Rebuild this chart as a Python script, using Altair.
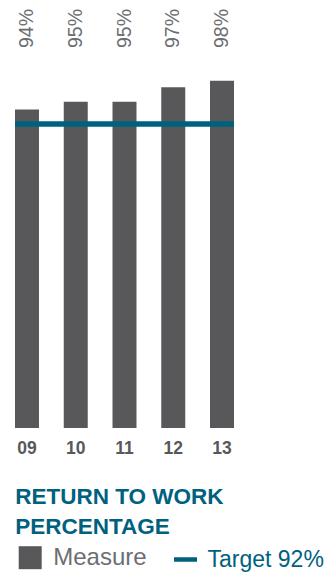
import altair as alt
import pandas as pd

years = ["09", "10", "11", "12", "13"]
measure = [94.0, 95.1, 95.1, 97.1, 98.0]
labels = ["94%", "95%", "95%", "97%", "98%"]
target_value = 92
target_label = "Target 92%"
measure_label = "Measure"
title_lines = ["RETURN TO WORK", "PERCENTAGE"]

FONT = "Liberation Sans"
BAR = "#58585a"
BLUE = "#00617f"
GRAY = "#6d6e71"

bars_df = pd.DataFrame({"year": years, "value": measure, "label": labels,
                        "series": [measure_label] * len(years)})
target_df = pd.DataFrame({"series": [target_label], "value": [target_value]})

yscale = alt.Scale(domain=[49.8, 108.1], zero=False, nice=False, clamp=True)

x_enc = alt.X(
    "year:N", sort=years,
    scale=alt.Scale(paddingInner=0.508, paddingOuter=0),
    axis=alt.Axis(title=None, ticks=False, domain=False, labelAngle=0,
                  labelFont=FONT, labelFontSize=17.5, labelFontWeight="bold",
                  labelColor=BAR, labelPadding=11.5),
)

bars = alt.Chart(bars_df).mark_bar().encode(
    x=x_enc,
    y=alt.Y("value:Q", scale=yscale, axis=None),
    fill=alt.Fill(
        "series:N",
        scale=alt.Scale(domain=[measure_label], range=[BAR]),
        legend=alt.Legend(
            title=title_lines, orient="none", legendX=0.2, legendY=478.2,
            padding=0, titleFont=FONT, titleFontSize=22.5, titleFontWeight="bold",
            titleColor=BLUE, titleLineHeight=30, titlePadding=7, titleLimit=400,
            titleAnchor="start", labelFont=FONT, labelFontSize=24,
            labelColor=GRAY, labelOffset=11, labelLimit=300,
            symbolType="square", symbolSize=529, symbolStrokeWidth=0,
            symbolOffset=3,
        ),
    ),
)

text = alt.Chart(bars_df).mark_text(
    angle=270, align="left", baseline="middle", font=FONT, fontSize=19.5,
    color=GRAY,
).encode(
    x=alt.X("year:N", sort=years),
    y=alt.value(40),
    text="label:N",
)

rule = alt.Chart(target_df).mark_rule(strokeWidth=5.5).encode(
    y=alt.Y("value:Q", scale=yscale, axis=None),
    stroke=alt.Stroke(
        "series:N",
        scale=alt.Scale(domain=[target_label], range=[BLUE]),
        legend=alt.Legend(
            title=None, orient="none", legendX=156.5, legendY=537.5,
            padding=0, labelFont=FONT, labelFontSize=23, labelColor=BLUE,
            labelOffset=8, labelLimit=300, symbolType="stroke",
            symbolSize=529, symbolStrokeWidth=4.5,
        ),
    ),
)

chart = alt.layer(bars, rule, text).resolve_scale(
    fill="independent", stroke="independent"
).properties(
    width=219, height=420,
    autosize=alt.AutoSizeParams(type="none"),
    padding={"left": 7, "top": 0, "right": 91, "bottom": 145},
).configure_view(stroke=None)

chart.save("out.html", embed_options={"renderer": "svg", "actions": False})
